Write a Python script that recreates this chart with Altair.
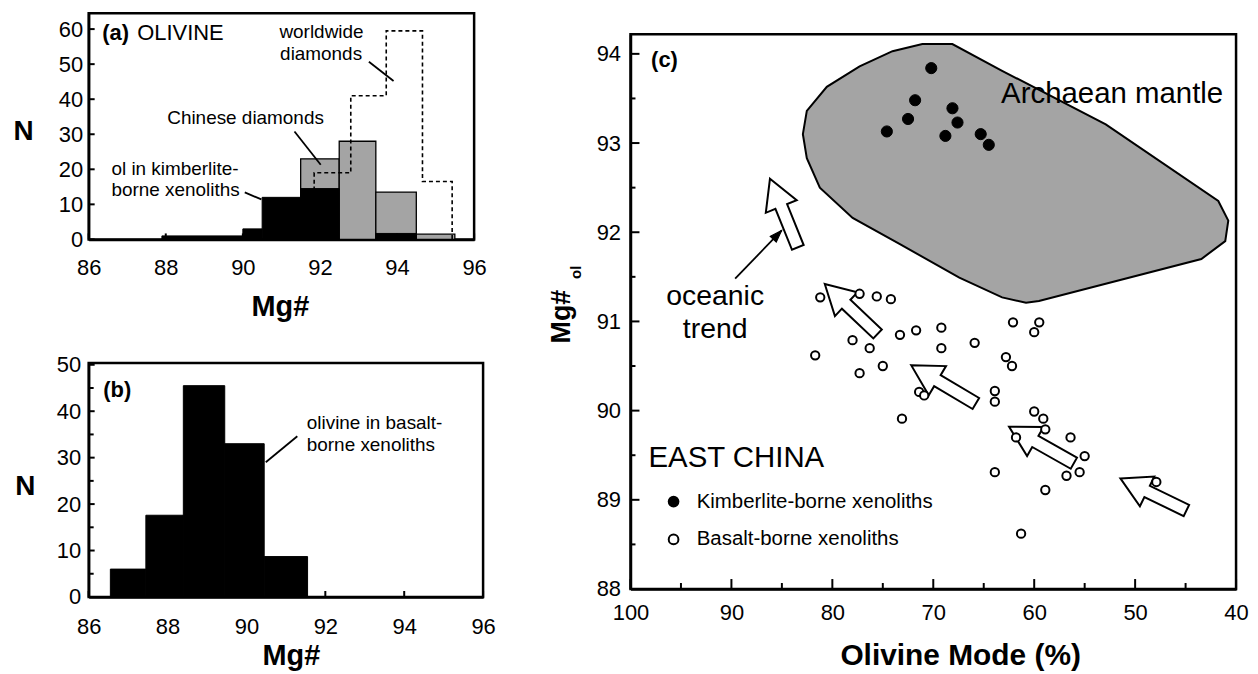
import math
import altair as alt
import pandas as pd

FONT = "Liberation Sans"
GREY = "#a4a4a4"

# ---------------- Panel (a): olivine Mg# histograms ----------------
a_kimb_lo = [87.9, 90.0, 90.5, 91.5, 93.45]
a_kimb_hi = [90.0, 90.5, 91.5, 92.5, 94.5]
a_kimb_n = [1.0, 3.0, 12.0, 14.5, 1.7]

a_chin_lo = [91.5, 92.5, 93.45, 94.5]
a_chin_hi = [92.5, 93.45, 94.5, 95.5]
a_chin_n = [23.0, 28.0, 13.5, 1.5]

a_world_edges = [91.85, 92.8, 93.72, 94.66, 95.43]
a_world_n = [19.0, 41.0, 59.5, 16.5]

a_xticks = [86, 88, 90, 92, 94, 96]
a_yticks = [0, 10, 20, 30, 40, 50, 60]

# ---------------- Panel (b): olivine in basalt-borne xenoliths ----------------
b_lo = [86.55, 87.45, 88.4, 89.45, 90.45]
b_hi = [87.45, 88.4, 89.45, 90.45, 91.55]
b_n = [6.0, 17.6, 45.5, 33.0, 8.7]

b_xticks = [86, 88, 90, 92, 94, 96]
b_yticks = [0, 10, 20, 30, 40, 50]
b_yminor = [5, 15, 25, 35, 45]

# ---------------- Panel (c): Mg# vs olivine mode ----------------
kim_mode = [70.2, 71.8, 72.5, 74.6, 68.1, 67.6, 68.8, 65.3, 64.5]
kim_mg = [93.84, 93.48, 93.27, 93.13, 93.39, 93.23, 93.08, 93.10, 92.98]

bas_mode = [81.2, 77.3, 75.6, 74.2, 81.7, 78.0, 76.3, 77.3, 75.0, 73.3, 71.7, 69.2,
            69.2, 71.4, 70.9, 73.1, 65.9, 62.1, 59.5, 60.0, 62.8, 62.2, 63.9, 63.9,
            60.0, 59.1, 58.9, 61.8, 56.4, 55.0, 55.5, 56.8, 63.9, 58.9, 47.9, 61.3]
bas_mg = [91.27, 91.31, 91.28, 91.25, 90.62, 90.79, 90.70, 90.42, 90.50, 90.85, 90.90, 90.93,
          90.70, 90.21, 90.17, 89.91, 90.76, 90.99, 90.99, 90.88, 90.60, 90.50, 90.22, 90.10,
          89.99, 89.91, 89.79, 89.70, 89.70, 89.49, 89.31, 89.27, 89.31, 89.11, 89.20, 88.62]

arch_mode = [82.92, 82.53, 80.55, 77.30, 74.04, 71.08, 68.11, 63.18, 52.91, 41.76, 40.77,
             41.07, 43.44, 59.53, 60.81, 63.18, 67.42, 73.35, 77.99, 81.24, 82.53]
arch_mg = [93.10, 93.36, 93.63, 93.86, 94.03, 94.11, 94.11, 93.81, 93.21, 92.35, 92.13,
           91.90, 91.70, 91.23, 91.21, 91.27, 91.49, 91.87, 92.16, 92.50, 92.83]

arrow_tail_mode = [83.42, 75.52, 65.78, 56.07, 44.92]
arrow_tail_mg = [91.83, 90.86, 90.08, 89.41, 88.88]
arrow_tip_mode = [86.18, 80.75, 72.19, 62.49, 51.46]
arrow_tip_mg = [92.60, 91.42, 90.51, 89.82, 89.24]

leader_from = (89.63, 91.48)
leader_to = (85.02, 92.02)

c_xticks = [100, 90, 80, 70, 60, 50, 40]
c_xminor = [95, 85, 75, 65, 55, 45]
c_yticks = [88, 89, 90, 91, 92, 93, 94]
c_yminor = [88.5, 89.5, 90.5, 91.5, 92.5, 93.5]
groups = ["Kimberlite-borne xenoliths", "Basalt-borne xenoliths"]

# ---------------- sizes / scales ----------------
WA, HA = 387, 227
WB, HB = 396, 235
WC, HC = 608, 557

C_X0, C_X1, C_Y0, C_Y1 = 40, 100, 88, 94.22


def axis(values, title, **kw):
    base = dict(values=values, title=title, ticks=False, grid=False, labelFontSize=22,
                labelFont=FONT, titleFont=FONT, titleFontWeight="bold", labelFlush=False,
                labelOverlap=False, domainColor="black", domainWidth=2.5,
                labelColor="black", titleColor="black")
    base.update(kw)
    return alt.Axis(**base)


def enc_maker(channel, domain, ax, reverse=False):
    scale = alt.Scale(domain=domain, nice=False, zero=False, reverse=reverse)
    cls = alt.X if channel == "x" else alt.Y

    def make(field):
        return cls(field, type="quantitative", scale=scale, axis=ax)
    return make


def txt(text, x, y, xe, ye, size, bold=False, align="left", baseline="middle"):
    df = pd.DataFrame({"x": [x], "y": [y], "t": [text]})
    return alt.Chart(df).mark_text(font=FONT, fontSize=size,
                                   fontWeight="bold" if bold else "normal",
                                   align=align, baseline=baseline, color="black").encode(
        x=xe("x"), y=ye("y"), text="t:N")


def seg(p0, p1, xe, ye, width=1.8):
    df = pd.DataFrame({"x": [p0[0]], "y": [p0[1]], "x2": [p1[0]], "y2": [p1[1]]})
    return alt.Chart(df).mark_rule(color="black", strokeWidth=width).encode(
        x=xe("x"), y=ye("y"), x2="x2:Q", y2="y2:Q")


def xticks_in(values, xe, h, length, width=2):
    return alt.Chart(pd.DataFrame({"v": values})).mark_rule(color="black", strokeWidth=width).encode(
        x=xe("v"), y=alt.value(h), y2=alt.value(h - length))


def yticks_in(values, ye, length, width=2):
    return alt.Chart(pd.DataFrame({"v": values})).mark_rule(color="black", strokeWidth=width).encode(
        y=ye("v"), x=alt.value(0), x2=alt.value(length))


# ---------------- Panel (a) ----------------
ax_a_x = axis(a_xticks, "Mg#", labelPadding=18, titleFontSize=29, titleX=192, titleY=76,
              titleAlign="center", titleBaseline="alphabetic")
ax_a_y = axis(a_yticks, "N", labelPadding=6, titleFontSize=28, titleAngle=0, titleX=-66,
              titleY=119, titleAlign="center", titleBaseline="middle")
XA = enc_maker("x", [86, 96], ax_a_x)
YA = enc_maker("y", [0, 64.5], ax_a_y)

df_chin = pd.DataFrame({"lo": a_chin_lo, "hi": a_chin_hi, "n": a_chin_n, "z": 0.0})
df_kimb = pd.DataFrame({"lo": a_kimb_lo, "hi": a_kimb_hi, "n": a_kimb_n, "z": 0.0})
wx = [a_world_edges[0]] + a_world_edges
wy = [0.0] + a_world_n + [0.0]
df_world = pd.DataFrame({"x": wx, "y": wy, "i": list(range(len(wx)))})

chin_bars = alt.Chart(df_chin).mark_rect(fill=GREY, stroke="black", strokeWidth=1.3).encode(
    x=XA("lo"), x2="hi:Q", y=YA("n"), y2="z:Q")
world_line = alt.Chart(df_world).mark_line(interpolate="step-after", color="black",
                                           strokeWidth=1.6, strokeDash=[4, 3]).encode(
    x=XA("x"), y=YA("y"), order="i:Q")
kimb_bars = alt.Chart(df_kimb).mark_rect(fill="black", stroke="black", strokeWidth=1).encode(
    x=XA("lo"), x2="hi:Q", y=YA("n"), y2="z:Q")

panel_a = alt.layer(
    chin_bars, world_line, kimb_bars,
    xticks_in(a_xticks, XA, HA, 6), yticks_in(a_yticks, YA, 6),
    txt("(a)", 86.35, 58.9, XA, YA, 22, bold=True),
    txt("OLIVINE", 87.26, 58.9, XA, YA, 22),
    txt("worldwide", 92.04, 59.2, XA, YA, 19, align="center"),
    txt("diamonds", 92.03, 52.9, XA, YA, 19, align="center"),
    txt("Chinese diamonds", 90.07, 34.7, XA, YA, 19, align="center"),
    txt("ol in kimberlite-", 86.59, 20.2, XA, YA, 19),
    txt("borne xenoliths", 86.59, 14.0, XA, YA, 19),
    seg((93.27, 50.7), (93.91, 45.2), XA, YA),
    seg((91.34, 30.8), (92.02, 21.3), XA, YA),
    seg((90.05, 13.4), (90.48, 11.4), XA, YA),
).properties(width=WA, height=HA)

# ---------------- Panel (b) ----------------
ax_b_x = axis(b_xticks, "Mg#", labelPadding=20, titleFontSize=29, titleX=203, titleY=68,
              titleAlign="center", titleBaseline="alphabetic")
ax_b_y = axis(b_yticks, "N", labelPadding=8, titleFontSize=28, titleAngle=0, titleX=-64,
              titleY=124, titleAlign="center", titleBaseline="middle")
XB = enc_maker("x", [86, 96], ax_b_x)
YB = enc_maker("y", [0, 50.4], ax_b_y)

df_b = pd.DataFrame({"lo": b_lo, "hi": b_hi, "n": b_n, "z": 0.0})
b_bars = alt.Chart(df_b).mark_rect(fill="black", stroke="black", strokeWidth=1).encode(
    x=XB("lo"), x2="hi:Q", y=YB("n"), y2="z:Q")

panel_b = alt.layer(
    b_bars,
    xticks_in(b_xticks, XB, HB, 6), yticks_in(b_yticks, YB, 6), yticks_in(b_yminor, YB, 5),
    txt("(b)", 86.37, 44.6, XB, YB, 22, bold=True),
    txt("olivine in basalt-", 91.53, 37.5, XB, YB, 19),
    txt("borne xenoliths", 91.53, 32.7, XB, YB, 19),
    seg((91.29, 34.6), (90.49, 29.0), XB, YB),
).properties(width=WB, height=HB)

# ---------------- Panel (c) ----------------
px_x = WC / (C_X1 - C_X0)
px_y = HC / (C_Y1 - C_Y0)


def screen_vec(x0, y0, x1, y1):
    dx = -(x1 - x0) * px_x  # reversed x scale
    dy = -(y1 - y0) * px_y
    return dx, dy


ARROW = "M0,0L0.45,0.81L0.17,0.81L0.17,2L-0.17,2L-0.17,0.81L-0.45,0.81Z"
TRI = "M0,0L0.7,2L-0.7,2Z"

angs, sizes = [], []
for tx, ty, hx, hy in zip(arrow_tail_mode, arrow_tail_mg, arrow_tip_mode, arrow_tip_mg):
    dx, dy = screen_vec(tx, ty, hx, hy)
    angs.append(math.degrees(math.atan2(dx, -dy)) % 360)
    sizes.append(dx * dx + dy * dy)
df_arrows = pd.DataFrame({"mode": arrow_tip_mode, "mg": arrow_tip_mg, "ang": angs, "sz": sizes})

ldx, ldy = screen_vec(leader_from[0], leader_from[1], leader_to[0], leader_to[1])
df_lhead = pd.DataFrame({"mode": [leader_to[0]], "mg": [leader_to[1]],
                         "ang": [math.degrees(math.atan2(ldx, -ldy)) % 360]})

ax_c_x = axis(c_xticks, "Olivine Mode (%)", labelPadding=14, titleFontSize=30, titleX=331,
              titleY=76, titleAlign="center", titleBaseline="alphabetic")
ax_c_y = axis(c_yticks, "Mg#", labelPadding=10, titleFontSize=27, titleAngle=270, titleX=-69,
              titleY=283, titleAlign="center", titleBaseline="middle")
XC = enc_maker("x", [C_X0, C_X1], ax_c_x, reverse=True)
YC = enc_maker("y", [C_Y0, C_Y1], ax_c_y)

df_arch = pd.DataFrame({"mode": arch_mode, "mg": arch_mg, "i": list(range(len(arch_mode)))})
arch = alt.Chart(df_arch).mark_line(interpolate="linear-closed", fill=GREY, stroke="black",
                                    strokeWidth=2).encode(
    x=XC("mode"), y=YC("mg"), order="i:Q")

arrows = alt.Chart(df_arrows).mark_point(shape=ARROW, filled=True, fill="white", stroke="black",
                                          strokeWidth=2, opacity=1).encode(
    x=XC("mode"), y=YC("mg"),
    angle=alt.Angle("ang:Q", scale=None), size=alt.Size("sz:Q", scale=None))

lhead = alt.Chart(df_lhead).mark_point(shape=TRI, filled=True, fill="black", stroke="black",
                                        strokeWidth=1, size=150, opacity=1).encode(
    x=XC("mode"), y=YC("mg"), angle=alt.Angle("ang:Q", scale=None))

fill_scale = alt.Scale(domain=groups, range=["black", "white"])
legend = alt.Legend(title=None, orient="none", legendX=577, legendY=480, labelFont=FONT,
                    labelFontSize=20.5, labelColor="black", labelOffset=13, rowPadding=17,
                    labelLimit=0, symbolSize=95, symbolStrokeColor="black",
                    symbolStrokeWidth=2, symbolType="circle", padding=0)

df_bas = pd.DataFrame({"mode": bas_mode, "mg": bas_mg, "grp": [groups[1]] * len(bas_mode)})
df_kim = pd.DataFrame({"mode": kim_mode, "mg": kim_mg, "grp": [groups[0]] * len(kim_mode)})

bas_pts = alt.Chart(df_bas).mark_point(shape="circle", filled=True, stroke="black", strokeWidth=2,
                                        size=70, opacity=1).encode(
    x=XC("mode"), y=YC("mg"), fill=alt.Fill("grp:N", scale=fill_scale, legend=legend))
kim_pts = alt.Chart(df_kim).mark_point(shape="circle", filled=True, stroke="black", strokeWidth=1,
                                        size=125, opacity=1).encode(
    x=XC("mode"), y=YC("mg"), fill=alt.Fill("grp:N", scale=fill_scale, legend=legend))

sub_ol = alt.Chart(pd.DataFrame({"t": ["ol"]})).mark_text(
    font=FONT, fontSize=15, fontWeight="bold", angle=270, color="black",
    align="center", baseline="middle").encode(x=alt.value(-55), y=alt.value(239), text="t:N")

panel_c = alt.layer(
    arch, arrows, seg(leader_from, leader_to, XC, YC, 1.8), lhead, bas_pts, kim_pts,
    xticks_in(c_xticks, XC, HC, 10), xticks_in(c_xminor, XC, HC, 6),
    yticks_in(c_yticks, YC, 9), yticks_in(c_yminor, YC, 5),
    txt("(c)", 97.96, 93.93, XC, YC, 22, bold=True),
    txt("Archaean mantle", 63.28, 93.55, XC, YC, 29.5),
    txt("oceanic", 91.61, 91.29, XC, YC, 28.5, align="center"),
    txt("trend", 91.61, 90.92, XC, YC, 28.5, align="center"),
    txt("EAST CHINA", 98.22, 89.47, XC, YC, 29.5),
    sub_ol,
).properties(width=WC, height=HC)

# invisible 1-px spacer that pushes panel (c) down relative to panel (a)
spacer = alt.Chart(pd.DataFrame({"t": [0]})).mark_rect(opacity=0).encode(
    x=alt.value(0), x2=alt.value(1), y=alt.value(0), y2=alt.value(1)
).properties(width=WC, height=1, view=alt.ViewBackground(stroke="transparent"))

chart = alt.hconcat(
    alt.vconcat(panel_a, panel_b, spacing=29),
    alt.vconcat(spacer, panel_c, spacing=16),
    spacing=49,
).properties(
    padding={"left": 3, "top": 2, "right": 0, "bottom": 0}
).configure_view(
    stroke="black", strokeWidth=2.5
).configure_legend(
    labelFont=FONT
)

chart.save("out.html", embed_options={"renderer": "svg", "actions": False})
